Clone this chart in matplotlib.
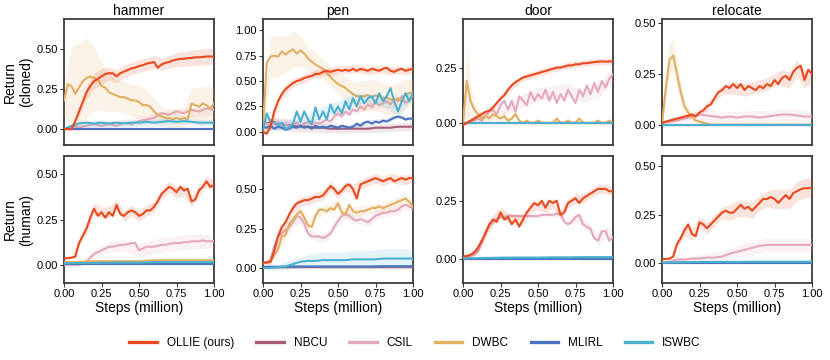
import numpy as np
import matplotlib
matplotlib.use("Agg")
import matplotlib.pyplot as plt

plt.rcParams['font.family'] = ['Liberation Sans', 'DejaVu Sans']

methods = ["OLLIE (ours)", "NBCU", "CSIL", "DWBC", "MLIRL", "ISWBC"]
colors = ["#E8491D", "#A65E78", "#E4A7BD", "#E2AE5F", "#4A70BF", "#4BB0CE"]
tasks = ["hammer", "pen", "door", "relocate"]
row_labels = ["Return\n(cloned)", "Return\n(human)"]
x_ticks = [0.0, 0.25, 0.5, 0.75, 1.0]
x_ticklabels = ["0.00", "0.25", "0.50", "0.75", "1.00"]

# ---------------- hammer (cloned) ----------------
hc_ollie = [0.0,0.0,0.0,0.05,0.11,0.17,0.23,0.27,0.30,0.315,0.33,0.345,0.35,0.35,0.33,0.35,0.36,0.37,0.38,0.385,0.395,0.40,0.41,0.415,0.42,0.385,0.405,0.415,0.42,0.43,0.435,0.44,0.44,0.445,0.445,0.45,0.45,0.452,0.455,0.455,0.455]
hc_ollie_sd = [0.005,0.01,0.03,0.04,0.05,0.05,0.04,0.04,0.04,0.04,0.04,0.04,0.04,0.04,0.04,0.045,0.045,0.05,0.05,0.05,0.05]
hc_dwbc = [0.18,0.28,0.27,0.22,0.26,0.30,0.32,0.33,0.32,0.31,0.27,0.26,0.23,0.22,0.21,0.20,0.20,0.19,0.18,0.18,0.17,0.15,0.15,0.14,0.11,0.09,0.08,0.07,0.07,0.06,0.07,0.06,0.07,0.06,0.16,0.15,0.14,0.16,0.15,0.13,0.16]
hc_dwbc_sd = [0.1,0.25,0.28,0.25,0.2,0.15,0.12,0.1,0.1,0.1,0.1,0.1,0.08,0.06,0.06,0.06,0.06,0.1,0.12,0.12,0.1]
hc_csil = [0.0,0.02,0.01,0.02,0.03,0.02,0.03,0.02,0.04,0.03,0.05,0.06,0.07,0.1,0.09,0.11,0.1,0.12,0.11,0.13,0.12]
hc_csil_sd = [0.01,0.02,0.02,0.02,0.02,0.03,0.03,0.03,0.03,0.03,0.03]
hc_iswbc = [0.0,0.02,0.035,0.04,0.035,0.04,0.035,0.04,0.035,0.04,0.04,0.045,0.04,0.045,0.05,0.045,0.05,0.045,0.04,0.04,0.04]
hc_iswbc_sd = [0.01,0.02,0.02,0.02,0.02,0.02,0.02,0.02,0.02,0.02,0.02]
hc_mlirl = [0.0,0.0,0.0,0.0,0.0,0.0,0.0,0.0,0.0,0.0,0.0]
hc_mlirl_sd = [0.003,0.003,0.003,0.003,0.003,0.003,0.003,0.003,0.003,0.003,0.003]
hc_nbcu = [0.0,0.0,0.0,0.0,0.0,0.0,0.0,0.0,0.0,0.0,0.0]
hc_nbcu_sd = [0.002,0.002,0.002,0.002,0.002,0.002,0.002,0.002,0.002,0.002,0.002]

# ---------------- pen (cloned) ----------------
pc_ollie = [0.0,-0.02,0.05,0.2,0.3,0.37,0.42,0.45,0.48,0.50,0.51,0.53,0.54,0.55,0.57,0.57,0.59,0.60,0.59,0.60,0.61,0.60,0.61,0.60,0.62,0.60,0.62,0.61,0.60,0.62,0.61,0.60,0.62,0.63,0.60,0.59,0.61,0.62,0.60,0.61,0.62]
pc_ollie_sd = [0.01,0.03,0.05,0.05,0.04,0.04,0.04,0.04,0.04,0.04,0.04,0.04,0.04,0.04,0.04,0.04,0.04,0.04,0.04,0.04,0.04]
pc_dwbc = [0.05,0.68,0.74,0.75,0.74,0.79,0.76,0.79,0.81,0.77,0.80,0.77,0.72,0.69,0.66,0.64,0.62,0.58,0.54,0.50,0.47,0.45,0.43,0.40,0.37,0.35,0.35,0.35,0.36,0.34,0.36,0.35,0.33,0.34,0.32,0.31,0.33,0.30,0.37,0.38,0.39]
pc_dwbc_sd = [0.05,0.2,0.2,0.18,0.18,0.15,0.12,0.12,0.1,0.1,0.1,0.12,0.12,0.15,0.15,0.15,0.15,0.15,0.15,0.15,0.12]
pc_iswbc = [0.02,0.18,0.1,0.1,0.06,0.09,0.03,0.04,0.08,0.2,0.1,0.2,0.12,0.08,0.24,0.12,0.2,0.12,0.27,0.18,0.25,0.18,0.3,0.22,0.33,0.25,0.35,0.28,0.33,0.35,0.28,0.38,0.3,0.35,0.43,0.3,0.2,0.3,0.38,0.3,0.38]
pc_iswbc_sd = [0.02,0.05,0.05,0.05,0.05,0.05,0.05,0.05,0.05,0.05,0.05]
pc_csil = [0.1,0.08,0.07,0.08,0.1,0.06,0.08,0.05,0.07,0.09,0.06,0.08,0.1,0.07,0.09,0.08,0.1,0.12,0.1,0.15,0.18,0.15,0.2,0.17,0.22,0.2,0.25,0.22,0.27,0.24,0.3,0.26,0.28,0.3,0.27,0.32,0.3,0.35,0.28,0.32,0.35]
pc_csil_sd = [0.03,0.03,0.03,0.03,0.04,0.04,0.05,0.05,0.05,0.05,0.05]
pc_mlirl = [0.05,0.04,0.06,0.03,0.05,0.04,0.02,0.03,0.05,0.04,0.06,0.04,0.05,0.03,0.06,0.04,0.05,0.04,0.06,0.05,0.04,0.06,0.05,0.04,0.05,0.08,0.06,0.09,0.1,0.08,0.1,0.09,0.11,0.1,0.12,0.14,0.15,0.14,0.12,0.13,0.13]
pc_mlirl_sd = [0.02,0.02,0.02,0.02,0.02,0.02,0.02,0.02,0.02,0.02,0.02]
pc_nbcu = [0.08,0.09,0.08,0.07,0.06,0.05,0.05,0.04,0.04,0.03,0.03,0.03,0.03,0.03,0.03,0.04,0.04,0.04,0.05,0.05,0.05]
pc_nbcu_sd = [0.05,0.06,0.06,0.05,0.05,0.04,0.04,0.04,0.04,0.04,0.04]

# ---------------- door (cloned) ----------------
dc_ollie = [-0.01,0.0,0.01,0.02,0.03,0.04,0.05,0.055,0.07,0.09,0.11,0.125,0.15,0.17,0.185,0.195,0.205,0.21,0.215,0.22,0.225,0.23,0.235,0.24,0.245,0.25,0.25,0.255,0.26,0.26,0.265,0.265,0.27,0.27,0.273,0.275,0.277,0.278,0.277,0.278,0.278]
dc_ollie_sd = [0.005,0.01,0.01,0.015,0.015,0.015,0.015,0.015,0.015,0.015,0.015]
dc_dwbc = [0.0,0.19,0.1,0.06,0.04,0.02,0.03,0.02,0.04,0.03,0.02,0.03,0.01,0.02,0.04,0.01,0.0,0.01,0.0,0.0,0.01,0.0,0.0,0.0,0.0,0.02,0.0,0.0,0.01,0.0,0.0,0.02,0.0,0.0,0.0,0.0,0.01,0.0,0.0,0.01,0.0]
dc_dwbc_sd = [0.0,0.18,0.08,0.04,0.03,0.02,0.02,0.02,0.02,0.02,0.02,0.02,0.01,0.01,0.01,0.01,0.01,0.01,0.01,0.01,0.01,0.01,0.01,0.01,0.01,0.01,0.01,0.01,0.01,0.01,0.01,0.01,0.01,0.01,0.01,0.01,0.01,0.01,0.01,0.01,0.01]
dc_csil = [0.0,0.0,0.01,0.01,0.02,0.01,0.03,0.05,0.06,0.04,0.08,0.1,0.06,0.1,0.05,0.12,0.1,0.08,0.14,0.1,0.13,0.11,0.15,0.1,0.14,0.09,0.13,0.1,0.15,0.12,0.09,0.15,0.12,0.17,0.13,0.18,0.14,0.19,0.16,0.2,0.22]
dc_csil_sd = [0.01,0.01,0.02,0.02,0.03,0.03,0.03,0.03,0.03,0.03,0.03]
dc_iswbc = [0.0,0.0,0.0,0.0,0.0,0.0,0.0,0.0,0.0,0.0,0.0]
dc_iswbc_sd = [0.003,0.003,0.003,0.003,0.003,0.003,0.003,0.003,0.003,0.003,0.003]
dc_mlirl = [0.0,0.0,0.0,0.0,0.0,0.0,0.0,0.0,0.0,0.0,0.0]
dc_mlirl_sd = [0.002,0.002,0.002,0.002,0.002,0.002,0.002,0.002,0.002,0.002,0.002]
dc_nbcu = [0.0,0.0,0.0,0.0,0.0,0.0,0.0,0.0,0.0,0.0,0.0]
dc_nbcu_sd = [0.002,0.002,0.002,0.002,0.002,0.002,0.002,0.002,0.002,0.002,0.002]

# ---------------- relocate (cloned) ----------------
rc_ollie = [0.01,0.015,0.02,0.025,0.03,0.035,0.04,0.045,0.05,0.04,0.06,0.07,0.09,0.1,0.13,0.16,0.17,0.19,0.18,0.2,0.18,0.2,0.17,0.19,0.18,0.17,0.19,0.18,0.2,0.19,0.22,0.2,0.23,0.24,0.22,0.26,0.28,0.29,0.22,0.27,0.25]
rc_ollie_sd = [0.005,0.01,0.01,0.01,0.01,0.01,0.02,0.02,0.02,0.03,0.03,0.03,0.03,0.03,0.03,0.03,0.04,0.04,0.04,0.04,0.04]
rc_dwbc = [0.0,0.18,0.32,0.34,0.25,0.16,0.09,0.06,0.04,0.02,0.015,0.01,0.005,0.0,0.0,0.0,0.0,0.0,0.0,0.0,0.0,0.0,0.0,0.0,0.0,0.0,0.0,0.0,0.0,0.0,0.0,0.0,0.0,0.0,0.0,0.0,0.0,0.0,0.0,0.0,0.0]
rc_dwbc_sd = [0.0,0.05,0.08,0.08,0.07,0.05,0.04,0.03,0.02,0.01,0.01,0.01,0.0,0.0,0.0,0.0,0.0,0.0,0.0,0.0,0.0,0.0,0.0,0.0,0.0,0.0,0.0,0.0,0.0,0.0,0.0,0.0,0.0,0.0,0.0,0.0,0.0,0.0,0.0,0.0,0.0]
rc_csil = [0.01,0.015,0.02,0.03,0.04,0.05,0.045,0.04,0.035,0.04,0.035,0.04,0.04,0.035,0.04,0.045,0.05,0.05,0.045,0.04,0.04]
rc_csil_sd = [0.005,0.01,0.02,0.03,0.03,0.03,0.03,0.03,0.03,0.03,0.03]
rc_iswbc = [0.0,0.0,0.0,0.0,0.0,0.0,0.0,0.0,0.0,0.0,0.0]
rc_iswbc_sd = [0.003,0.003,0.003,0.003,0.003,0.003,0.003,0.003,0.003,0.003,0.003]
rc_mlirl = [0.0,0.0,0.0,0.0,0.0,0.0,0.0,0.0,0.0,0.0,0.0]
rc_mlirl_sd = [0.002,0.002,0.002,0.002,0.002,0.002,0.002,0.002,0.002,0.002,0.002]
rc_nbcu = [0.0,0.0,0.0,0.0,0.0,0.0,0.0,0.0,0.0,0.0,0.0]
rc_nbcu_sd = [0.002,0.002,0.002,0.002,0.002,0.002,0.002,0.002,0.002,0.002,0.002]

# ---------------- hammer (human) ----------------
hh_ollie = [0.035,0.037,0.04,0.045,0.12,0.16,0.2,0.26,0.31,0.27,0.29,0.26,0.29,0.27,0.33,0.28,0.27,0.29,0.3,0.29,0.27,0.28,0.3,0.3,0.32,0.35,0.39,0.41,0.43,0.42,0.40,0.43,0.41,0.42,0.35,0.36,0.41,0.43,0.46,0.43,0.44]
hh_ollie_sd = [0.005,0.005,0.02,0.03,0.03,0.03,0.03,0.03,0.03,0.03,0.03,0.03,0.03,0.03,0.03,0.03,0.03,0.03,0.03,0.03,0.03]
hh_csil = [0.0,0.0,0.0,0.0,0.0,0.005,0.02,0.04,0.06,0.07,0.08,0.09,0.1,0.1,0.105,0.11,0.11,0.115,0.12,0.12,0.08,0.09,0.1,0.1,0.1,0.105,0.11,0.11,0.115,0.12,0.12,0.12,0.125,0.125,0.13,0.13,0.13,0.135,0.13,0.13,0.13]
hh_csil_sd = [0.0,0.005,0.02,0.03,0.03,0.04,0.04,0.04,0.04,0.04,0.04]
hh_dwbc = [0.015,0.015,0.02,0.02,0.02,0.02,0.025,0.025,0.025,0.025,0.025]
hh_dwbc_sd = [0.01,0.01,0.01,0.01,0.01,0.01,0.01,0.01,0.01,0.01,0.01]
hh_iswbc = [0.008,0.01,0.01,0.012,0.012,0.012,0.015,0.015,0.015,0.015,0.015]
hh_iswbc_sd = [0.005,0.005,0.005,0.005,0.005,0.005,0.005,0.005,0.005,0.005,0.005]
hh_mlirl = [0.005,0.005,0.005,0.005,0.005,0.005,0.005,0.005,0.005,0.005,0.005]
hh_mlirl_sd = [0.003,0.003,0.003,0.003,0.003,0.003,0.003,0.003,0.003,0.003,0.003]
hh_nbcu = [0.003,0.003,0.003,0.003,0.003,0.003,0.003,0.003,0.003,0.003,0.003]
hh_nbcu_sd = [0.002,0.002,0.002,0.002,0.002,0.002,0.002,0.002,0.002,0.002,0.002]

# ---------------- pen (human) ----------------
ph_ollie = [0.035,0.035,0.04,0.11,0.2,0.26,0.29,0.34,0.38,0.41,0.42,0.43,0.43,0.44,0.45,0.45,0.46,0.49,0.52,0.50,0.47,0.49,0.52,0.53,0.50,0.44,0.53,0.54,0.55,0.56,0.57,0.56,0.55,0.56,0.57,0.55,0.56,0.57,0.56,0.57,0.57]
ph_ollie_sd = [0.005,0.02,0.03,0.03,0.03,0.03,0.03,0.03,0.03,0.03,0.03,0.03,0.03,0.03,0.03,0.03,0.03,0.03,0.03,0.03,0.03]
ph_dwbc = [0.03,0.035,0.04,0.08,0.12,0.2,0.21,0.28,0.31,0.34,0.36,0.32,0.27,0.26,0.33,0.37,0.37,0.36,0.38,0.37,0.41,0.35,0.34,0.4,0.36,0.35,0.36,0.36,0.37,0.38,0.38,0.39,0.38,0.39,0.4,0.41,0.42,0.43,0.44,0.42,0.39]
ph_dwbc_sd = [0.005,0.02,0.03,0.03,0.03,0.03,0.03,0.03,0.03,0.03,0.03,0.03,0.03,0.03,0.03,0.03,0.03,0.03,0.03,0.03,0.03]
ph_csil = [0.03,0.035,0.05,0.14,0.2,0.22,0.24,0.26,0.29,0.33,0.32,0.28,0.22,0.2,0.2,0.2,0.19,0.2,0.22,0.26,0.3,0.33,0.34,0.33,0.31,0.3,0.31,0.3,0.29,0.31,0.33,0.34,0.35,0.35,0.36,0.36,0.37,0.39,0.4,0.39,0.38]
ph_csil_sd = [0.005,0.02,0.03,0.03,0.03,0.03,0.03,0.03,0.03,0.03,0.03,0.03,0.03,0.03,0.03,0.03,0.03,0.03,0.03,0.03,0.03]
ph_iswbc = [0.0,0.0,0.005,0.01,0.025,0.04,0.045,0.045,0.05,0.05,0.05,0.05,0.055,0.055,0.055,0.055,0.06,0.06,0.06,0.06,0.06]
ph_iswbc_sd = [0.005,0.02,0.03,0.04,0.05,0.05,0.055,0.055,0.06,0.06,0.06]
ph_mlirl = [0.008,0.008,0.01,0.01,0.01,0.01,0.01,0.01,0.012,0.012,0.012]
ph_mlirl_sd = [0.004,0.004,0.004,0.004,0.004,0.004,0.004,0.004,0.004,0.004,0.004]
ph_nbcu = [0.004,0.004,0.005,0.005,0.005,0.005,0.005,0.005,0.005,0.005,0.005]
ph_nbcu_sd = [0.003,0.003,0.003,0.003,0.003,0.003,0.003,0.003,0.003,0.003,0.003]

# ---------------- door (human) ----------------
dh_ollie = [0.013,0.015,0.02,0.03,0.05,0.08,0.11,0.15,0.17,0.16,0.2,0.17,0.18,0.15,0.17,0.14,0.17,0.2,0.22,0.24,0.23,0.25,0.22,0.25,0.24,0.25,0.19,0.2,0.24,0.25,0.26,0.24,0.26,0.27,0.28,0.29,0.3,0.3,0.3,0.29,0.29]
dh_ollie_sd = [0.005,0.01,0.02,0.02,0.02,0.02,0.02,0.02,0.02,0.02,0.02,0.02,0.02,0.02,0.02,0.02,0.02,0.02,0.02,0.02,0.02]
dh_csil = [0.01,0.012,0.015,0.02,0.035,0.07,0.12,0.14,0.16,0.17,0.18,0.18,0.185,0.185,0.185,0.185,0.185,0.185,0.185,0.185,0.185,0.19,0.19,0.19,0.19,0.195,0.195,0.16,0.15,0.16,0.18,0.19,0.15,0.14,0.13,0.09,0.08,0.12,0.12,0.08,0.095]
dh_csil_sd = [0.005,0.01,0.01,0.015,0.02,0.015,0.01,0.01,0.01,0.01,0.01,0.01,0.01,0.01,0.02,0.02,0.02,0.02,0.02,0.02,0.02]
dh_dwbc = [0.002,0.002,0.002,0.002,0.002,0.002,0.002,0.002,0.002,0.002,0.002]
dh_dwbc_sd = [0.003,0.003,0.003,0.003,0.003,0.003,0.003,0.003,0.003,0.003,0.003]
dh_iswbc = [0.005,0.006,0.007,0.008,0.008,0.008,0.009,0.009,0.01,0.01,0.01]
dh_iswbc_sd = [0.006,0.006,0.006,0.006,0.006,0.006,0.006,0.006,0.006,0.006,0.006]
dh_mlirl = [0.003,0.003,0.003,0.003,0.003,0.003,0.003,0.003,0.003,0.003,0.003]
dh_mlirl_sd = [0.003,0.003,0.003,0.003,0.003,0.003,0.003,0.003,0.003,0.003,0.003]
dh_nbcu = [0.001,0.001,0.001,0.001,0.001,0.001,0.001,0.001,0.001,0.001,0.001]
dh_nbcu_sd = [0.002,0.002,0.002,0.002,0.002,0.002,0.002,0.002,0.002,0.002,0.002]

# ---------------- relocate (human) ----------------
rh_ollie = [0.022,0.023,0.025,0.035,0.1,0.13,0.17,0.2,0.15,0.14,0.21,0.2,0.18,0.2,0.22,0.24,0.26,0.27,0.26,0.26,0.28,0.3,0.28,0.29,0.27,0.29,0.31,0.33,0.33,0.34,0.33,0.31,0.33,0.35,0.33,0.36,0.37,0.38,0.385,0.385,0.39]
rh_ollie_sd = [0.003,0.005,0.02,0.03,0.03,0.03,0.03,0.03,0.03,0.04,0.04,0.04,0.04,0.04,0.04,0.05,0.05,0.05,0.05,0.05,0.05]
rh_csil = [0.0,0.01,0.02,0.02,0.025,0.025,0.03,0.03,0.035,0.05,0.06,0.07,0.08,0.09,0.095,0.095,0.095,0.095,0.095,0.095,0.095]
rh_csil_sd = [0.0,0.01,0.015,0.02,0.03,0.03,0.035,0.035,0.035,0.035,0.035]
rh_dwbc = [0.004,0.004,0.005,0.005,0.005,0.006,0.006,0.006,0.006,0.006,0.006]
rh_dwbc_sd = [0.004,0.004,0.004,0.004,0.004,0.004,0.004,0.004,0.004,0.004,0.004]
rh_iswbc = [0.005,0.006,0.007,0.008,0.008,0.008,0.009,0.009,0.009,0.009,0.009]
rh_iswbc_sd = [0.006,0.006,0.006,0.006,0.006,0.006,0.006,0.006,0.006,0.006,0.006]
rh_mlirl = [0.004,0.004,0.004,0.004,0.004,0.004,0.004,0.004,0.004,0.004,0.004]
rh_mlirl_sd = [0.003,0.003,0.003,0.003,0.003,0.003,0.003,0.003,0.003,0.003,0.003]
rh_nbcu = [0.002,0.002,0.002,0.002,0.002,0.002,0.002,0.002,0.002,0.002,0.002]
rh_nbcu_sd = [0.002,0.002,0.002,0.002,0.002,0.002,0.002,0.002,0.002,0.002,0.002]

# y-axis limits / ticks per panel (row, col)
ylims = [[(-0.1, 0.69), (-0.13, 1.11), (-0.1, 0.47), (-0.1, 0.52)],
         [(-0.1, 0.60), (-0.095, 0.71), (-0.1, 0.44), (-0.1, 0.55)]]
yticks = [[[0, 0.25, 0.5], [0, 0.25, 0.5, 0.75, 1.0], [0, 0.25], [0, 0.25, 0.5]],
          [[0, 0.25, 0.5], [0, 0.25, 0.5], [0, 0.25], [0, 0.25, 0.5]]]

panels = [
    [
        [hc_ollie, hc_nbcu, hc_csil, hc_dwbc, hc_mlirl, hc_iswbc],
        [pc_ollie, pc_nbcu, pc_csil, pc_dwbc, pc_mlirl, pc_iswbc],
        [dc_ollie, dc_nbcu, dc_csil, dc_dwbc, dc_mlirl, dc_iswbc],
        [rc_ollie, rc_nbcu, rc_csil, rc_dwbc, rc_mlirl, rc_iswbc],
    ],
    [
        [hh_ollie, hh_nbcu, hh_csil, hh_dwbc, hh_mlirl, hh_iswbc],
        [ph_ollie, ph_nbcu, ph_csil, ph_dwbc, ph_mlirl, ph_iswbc],
        [dh_ollie, dh_nbcu, dh_csil, dh_dwbc, dh_mlirl, dh_iswbc],
        [rh_ollie, rh_nbcu, rh_csil, rh_dwbc, rh_mlirl, rh_iswbc],
    ],
]
panels_sd = [
    [
        [hc_ollie_sd, hc_nbcu_sd, hc_csil_sd, hc_dwbc_sd, hc_mlirl_sd, hc_iswbc_sd],
        [pc_ollie_sd, pc_nbcu_sd, pc_csil_sd, pc_dwbc_sd, pc_mlirl_sd, pc_iswbc_sd],
        [dc_ollie_sd, dc_nbcu_sd, dc_csil_sd, dc_dwbc_sd, dc_mlirl_sd, dc_iswbc_sd],
        [rc_ollie_sd, rc_nbcu_sd, rc_csil_sd, rc_dwbc_sd, rc_mlirl_sd, rc_iswbc_sd],
    ],
    [
        [hh_ollie_sd, hh_nbcu_sd, hh_csil_sd, hh_dwbc_sd, hh_mlirl_sd, hh_iswbc_sd],
        [ph_ollie_sd, ph_nbcu_sd, ph_csil_sd, ph_dwbc_sd, ph_mlirl_sd, ph_iswbc_sd],
        [dh_ollie_sd, dh_nbcu_sd, dh_csil_sd, dh_dwbc_sd, dh_mlirl_sd, dh_iswbc_sd],
        [rh_ollie_sd, rh_nbcu_sd, rh_csil_sd, rh_dwbc_sd, rh_mlirl_sd, rh_iswbc_sd],
    ],
]

W, H = 830, 360
fig = plt.figure(figsize=(W / 100, H / 100), dpi=100)
lefts_px = [64, 263, 463, 662]
ax_w = 150
rows_px = [(19, 145), (156, 283)]
spine_c = "#3a3a3a"

zorders = [10, 3, 4, 5, 6, 7]
handles = []
for r in range(2):
    top_px, bot_px = rows_px[r]
    for c in range(4):
        ax = fig.add_axes([lefts_px[c] / W, 1 - bot_px / H, ax_w / W, (bot_px - top_px) / H])
        for k in range(6):
            y = np.array(panels[r][c][k], dtype=float)
            sd = np.array(panels_sd[r][c][k], dtype=float)
            x = np.linspace(0, 1, len(y))
            step = (len(y) - 1) // (len(sd) - 1)
            xs = x[::step]
            ys = y[::step]
            ax.fill_between(xs, ys - sd, ys + sd, color=colors[k], alpha=0.15,
                            linewidth=0, zorder=zorders[k] - 0.5)
            ln, = ax.plot(x, y, color=colors[k], lw=1.5, zorder=zorders[k], label=methods[k])
            if r == 0 and c == 0:
                handles.append(ln)
        ax.set_xlim(0, 1)
        ax.set_ylim(*ylims[r][c])
        ax.set_yticks(yticks[r][c])
        ax.set_yticklabels([f"{t:.2f}" for t in yticks[r][c]])
        for s in ax.spines.values():
            s.set_color(spine_c)
            s.set_linewidth(1.3)
        ax.tick_params(axis='both', direction='out', length=3, width=0.8,
                       color=spine_c, labelsize=8, pad=1.5)
        if r == 0:
            ax.set_title(tasks[c], fontsize=10, pad=3)
            ax.tick_params(axis='x', bottom=False, labelbottom=False)
        else:
            ax.set_xticks(x_ticks)
            ax.set_xticklabels(x_ticklabels)
            ax.set_xlabel("Steps (million)", fontsize=10, labelpad=1)
        if c == 0:
            ax.set_ylabel(row_labels[r], fontsize=10, labelpad=2)

leg = fig.legend(handles, methods, loc="center", bbox_to_anchor=(0.5, 0.047), ncol=6,
                 frameon=False, fontsize=8.5, handlelength=2.3, columnspacing=1.9,
                 handletextpad=0.85)
for lh in leg.get_lines():
    lh.set_linewidth(2.4)

fig.savefig("out.png", dpi=100)
